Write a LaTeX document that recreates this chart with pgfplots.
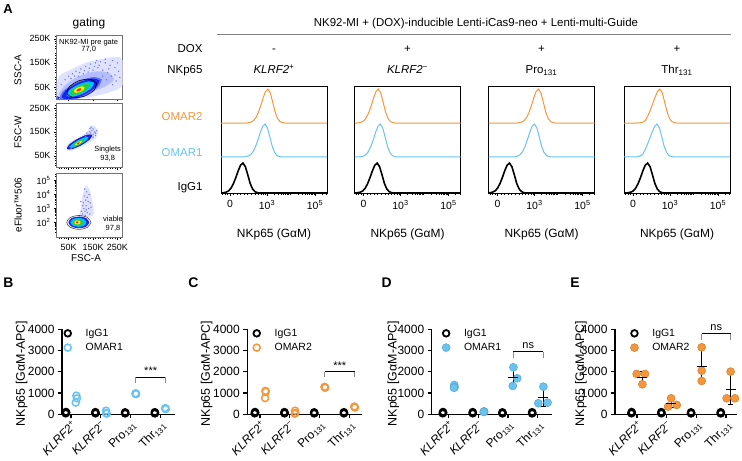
\documentclass[border=0pt]{standalone}
\usepackage{fontspec}
\setmainfont{Liberation Sans}
\usepackage{pgfplots}
\pgfplotsset{compat=1.18}
\definecolor{orangeC}{RGB}{245,150,60}
\definecolor{blueC}{RGB}{105,195,240}
\definecolor{dOut}{RGB}{95,115,255}
\definecolor{dBlue}{RGB}{25,35,235}
\definecolor{dCyan}{RGB}{0,195,255}
\definecolor{dGreen}{RGB}{40,205,70}
\definecolor{dYellow}{RGB}{250,235,0}
\definecolor{dRed}{RGB}{240,40,20}
\definecolor{cloud}{RGB}{222,226,255}
\definecolor{cloudB}{RGB}{180,190,255}
\definecolor{dots}{RGB}{110,120,245}
\newcommand{\fs}[1]{\fontsize{#1}{#1}\selectfont}
\pgfplotsset{
  every axis/.append style={/pgf/number format/assume math mode=true,/pgf/number format/1000 sep={}},
  gate/.style={scale only axis, width=66bp, height=64bp, anchor=south west,
    xmin=0, xmax=271, axis line style={black!55, line width=0.6bp},
    tick pos=left, tick align=outside, major tick length=2.5bp, minor tick length=1.3bp,
    tick style={black, line width=0.5bp},
    xtick={50,150,250}, minor xtick={10,20,30,40,60,70,80,90,110,120,130,140,160,170,180,190,210,220,230,240,260},
    ticklabel style={font=\fs{9}}, xticklabel style={yshift=-0.5bp},
  },
  hist/.style={scale only axis, width=106bp, height=107bp, anchor=south west,
    xmin=1.085, xmax=5.5, ymin=0, ymax=3.15, ytick=\empty,
    xtick={1.46,3,5}, xticklabels={0,10\textsuperscript{3},10\textsuperscript{5}},
    minor xtick={1.15,1.25,1.35,1.6,1.75,1.9,2.05,2.2,2.35,2.5,2.62,2.75,2.85,2.93,3.301,3.477,3.602,3.699,3.778,3.845,3.903,3.954,4.301,4.477,4.602,4.699,4.778,4.845,4.903,4.954,5.301,5.477},
    tick pos=left, tick align=outside, major tick length=3bp, minor tick length=1.8bp,
    tick style={black, line width=0.6bp},
    axis line style={line width=0.8bp},
    ticklabel style={font=\fs{10.5}}, xticklabel style={yshift=-1bp},
  },
  ora/.style={orangeC, line width=1bp},
  blu/.style={blueC, line width=1bp},
  blk/.style={black, line width=1.6bp},
  scat/.style={scale only axis, height=85bp, anchor=south west,
    ymin=0, ymax=4000, ytick={0,1000,2000,3000,4000},
    axis lines=left, axis line style={-, line width=1.3bp},
    xtick={1,2,3,4},
    xticklabels={\textit{KLRF2}\textsuperscript{+}, \textit{KLRF2}\textsuperscript{−}, Pro\textsubscript{131}, Thr\textsubscript{131}},
    xticklabel style={rotate=45, anchor=north east, font=\fs{12}, inner sep=1pt},
    yticklabel style={font=\fs{12}},
    tick align=outside, major tick length=4bp, tick style={line width=1.2bp, black},
    clip=false,
    legend style={draw=none, fill=none, font=\fs{10.5}, anchor=north west, inner sep=0pt, row sep=1.5pt},
    legend cell align=left,
    legend image code/.code={\draw[mark repeat=2,mark phase=2,#1] plot coordinates {(0bp,0bp) (4bp,0bp) (8bp,0bp)}; \path (0bp,0bp) (19bp,0bp);},
  },
  igg/.style={only marks, mark=o, mark size=3.3bp, black, line width=1.8bp},
  opn/.style={only marks, mark=o, mark size=3.5bp, line width=1.5bp},
  fil/.style={only marks, mark=*, mark size=4bp, line width=0.5bp},
  meansd/.style={forget plot, black, line width=1.1bp, only marks, mark=-, mark size=5bp,
    error bars/.cd, y dir=both, y explicit, error bar style={line width=1.1bp},
    error mark options={rotate=90, mark size=2.5bp, line width=1.1bp}},
  brk/.style={black, line width=1bp, forget plot},
  brt/.style={black!45, line width=1bp, forget plot},
}
\begin{document}
\begin{tikzpicture}
\path[use as bounding box] (0,0) rectangle (742bp,461bp);

% ---------------- Panel A texts
\node[font=\fs{13}\bfseries] at (8bp,452.3bp) {A};
\node[font=\fs{12}, anchor=base] at (89bp,434bp) {gating};
\node[font=\fs{11.5}, anchor=base] at (476bp,434bp) {NK92-MI + (DOX)-inducible Lenti-iCas9-neo + Lenti-multi-Guide};
\draw[black!50, line width=0.7bp] (217bp,427bp) -- (731bp,427bp);
\node[font=\fs{11.5}, anchor=base east] at (206bp,408.5bp) {DOX};
\node[font=\fs{11.5}, anchor=base east] at (206bp,387bp) {NKp65};
\node[font=\fs{11.5}, anchor=base] at (274bp,408.5bp) {-};
\node[font=\fs{11.5}, anchor=base] at (407.5bp,408.5bp) {+};
\node[font=\fs{11.5}, anchor=base] at (541.5bp,408.5bp) {+};
\node[font=\fs{11.5}, anchor=base] at (677bp,408.5bp) {+};
\node[font=\fs{11.5}, anchor=base] at (274bp,387bp) {\textit{KLRF2}\textsuperscript{+}};
\node[font=\fs{11.5}, anchor=base] at (407.5bp,387bp) {\textit{KLRF2}\textsuperscript{−}};
\node[font=\fs{11.5}, anchor=base] at (541.5bp,387bp) {Pro\textsubscript{131}};
\node[font=\fs{11.5}, anchor=base] at (677bp,387bp) {Thr\textsubscript{131}};
\node[font=\fs{11.5}, anchor=base east, text=orangeC] at (206bp,340.3bp) {OMAR2};
\node[font=\fs{11.5}, anchor=base east, text=blueC] at (206bp,304.3bp) {OMAR1};
\node[font=\fs{11.5}, anchor=base east] at (206bp,270bp) {IgG1};
\foreach \cx in {274,407.5,541.5,677}{
  \node[font=\fs{12}, anchor=base] at (\cx bp,223bp) {NKp65 (GαM)};
}
% gating labels
\node[font=\fs{10}, rotate=90] at (18bp,391bp) {SSC-A};
\node[font=\fs{10}, rotate=90] at (18bp,329bp) {FSC-W};
\node[font=\fs{10}, rotate=90] at (18bp,256bp) {eFluor™506};
\node[font=\fs{10}] at (86bp,203.3bp) {FSC-A};

% ---------------- gating plot 1
\begin{axis}[gate, at={(56.5bp,362bp)}, ymin=0, ymax=266,
  ytick={50,150,250}, yticklabels={50K,150K,250K}, xticklabels={},
  minor ytick={10,20,30,40,60,70,80,90,110,120,130,140,160,170,180,190,210,220,230,240,260}]
\addplot[fill=cloud, draw=none, smooth] coordinates {(0,0) (0,60) (16,100) (57,121) (118,150) (179,165) (240,175) (271,160) (271,58) (220,29) (138,8) (60,0) (0,0)};
\addplot[fill=cloudB, draw=none, smooth] coordinates {(8,20) (40,62) (100,98) (165,115) (215,108) (235,80) (200,52) (150,32) (90,15) (30,5) (8,20)};
\addplot[only marks, mark=*, mark size=0.45bp, dots] coordinates {(20,60) (35,80) (50,95) (65,105) (80,115) (100,125) (120,135) (140,145) (160,150) (180,155) (200,150) (220,140) (240,130) (255,115) (260,90) (245,75) (230,60) (210,110) (190,120) (170,130) (150,120) (130,112) (110,105) (90,95) (190,95) (205,80) (225,95) (240,100) (60,85) (75,95) (95,110) (115,118) (135,128) (155,135) (175,140) (250,150) (230,160) (200,165) (165,160) (215,125)};
\addplot[fill=dOut, draw=none, smooth] coordinates {(186.1,82.2) (151,91.6) (86,71.9) (29.2,34.7) (13.9,1.8) (49,-7.6) (114,12.1) (170.8,49.3) (186.1,82.2)};
\addplot[fill=dBlue, draw=none, smooth] coordinates {(177,78) (146,85) (88,67) (37,35) (23,6) (54,-1) (112,17) (163,50) (177,78)};
\addplot[fill=dCyan, draw=none, smooth] coordinates {(154.2,67.2) (131.4,73) (89.1,60) (52,35.9) (41.8,14.8) (64.6,9) (106.9,22) (144,46.1) (154.2,67.2)};
\addplot[fill=dGreen, draw=none, smooth] coordinates {(136.8,59) (120.4,63.1) (89.7,53.6) (62.7,36.2) (55.2,21) (71.6,16.9) (102.3,26.4) (129.3,43.8) (136.8,59)};
\addplot[fill=dYellow, draw=none, smooth] coordinates {(114.7,49.2) (105.4,52.6) (88.8,48.1) (74.7,39.8) (71.3,28.8) (80.6,25.4) (97.2,29.9) (111.3,38.2) (114.7,49.2)};
\addplot[fill=dRed, draw=none, smooth] coordinates {(102,42.7) (97.6,44.5) (89.9,42.5) (83.4,38.1) (82,33.3) (86.4,31.5) (94.1,33.5) (100.6,37.9) (102,42.7)};
\addplot[fill=dBlue, draw=none, smooth] coordinates {(14,5) (10,9) (4,11) (-2,9) (-4,5) (-2,1) (4,-1) (10,1) (14,5)};
\addplot[fill=dGreen, draw=none, smooth] coordinates {(8,4) (6,6) (3,7) (0,6) (-1,4) (0,2) (3,1) (6,2) (8,4)};
\addplot[fill=dRed, draw=none] coordinates {(5,4) (4,5) (3,5) (2,4) (3,3) (4,3) (5,4)};
\addplot[black, line width=0.6bp, smooth] coordinates {(164.2,65.9) (138.4,82.1) (92.4,76) (53.2,51.1) (43.8,22.1) (69.6,5.9) (115.6,12) (154.8,36.9) (164.2,65.9)};
\node[font=\fs{7.5}] at (axis cs:132,236) {NK92-MI pre gate};
\node[font=\fs{7.5}] at (axis cs:132,206) {77,0};
\end{axis}

% ---------------- gating plot 2
\begin{axis}[gate, at={(56.5bp,293.3bp)}, ymin=0, ymax=268,
  ytick={50,150,250}, yticklabels={50K,150K,250K}, xticklabels={},
  minor ytick={10,20,30,40,60,70,80,90,110,120,130,140,160,170,180,190,210,220,230,240,260}]
\addplot[fill=cloud, draw=none, smooth] coordinates {(45,72) (65,72) (110,92) (150,115) (170,140) (160,172) (140,175) (125,150) (95,128) (55,108) (40,88) (45,72)};
\addplot[only marks, mark=*, mark size=0.45bp, dots] coordinates {(150,140) (155,150) (160,145) (140,145) (130,140) (165,155) (145,155) (120,130) (160,135) (150,128) (100,118) (60,80) (55,90) (135,150) (125,145) (138,165) (142,170) (150,162) (115,135)};
\addplot[fill=dBlue, draw=dBlue!60!black, line width=0.5bp, smooth] coordinates {(145.8,136.1) (126.1,136.6) (88.2,120.3) (54.3,96.8) (44.2,79.9) (63.9,79.4) (101.8,95.7) (135.7,119.2) (145.8,136.1)};
\addplot[fill=dCyan, draw=none, smooth] coordinates {(131.5,127.3) (116.8,127.3) (88.2,114.8) (62.3,97.1) (54.5,84.7) (69.2,84.7) (97.9,97.3) (123.7,114.9) (131.5,127.3)};
\addplot[fill=dGreen, draw=none, smooth] coordinates {(118.3,119.6) (108.2,119.6) (88.6,111.1) (71,99) (65.7,90.4) (75.8,90.4) (95.4,98.9) (113,111) (118.3,119.6)};
\addplot[fill=dYellow, draw=none, smooth] coordinates {(104,110.8) (98.3,111.3) (87.8,106.9) (78.5,100.2) (76,95.2) (81.7,94.7) (92.2,99.1) (101.5,105.8) (104,110.8)};
\addplot[fill=dRed, draw=none, smooth] coordinates {(95.1,105.4) (92.5,106) (87.8,104.2) (83.8,101.2) (82.9,98.6) (85.5,98) (90.2,99.8) (94.2,102.8) (95.1,105.4)};
\node[font=\fs{7.5}] at (axis cs:210,74) {Singlets};
\node[font=\fs{7.5}] at (axis cs:210,37) {93,8};
\end{axis}

% ---------------- gating plot 3
\begin{axis}[gate, at={(56.5bp,223.7bp)}, ymin=0.93, ymax=5.53,
  ytick={2,3,4,5}, yticklabels={10\textsuperscript{2},10\textsuperscript{3},10\textsuperscript{4},10\textsuperscript{5}},
  xticklabels={50K,150K,250K},
  minor ytick={1.3,1.48,1.6,1.7,1.78,1.85,1.9,1.95,2.3,2.48,2.6,2.7,2.78,2.85,2.9,2.95,3.3,3.48,3.6,3.7,3.78,3.85,3.9,3.95,4.3,4.48,4.6,4.7,4.78,4.85,4.9,4.95,5.3,5.48}]
\addplot[fill=cloud, draw=none, smooth] coordinates {(90,2.3) (100,3.0) (106,3.8) (118,4.6) (135,4.4) (148,3.4) (150,2.5) (90,2.3)};
\addplot[only marks, mark=*, mark size=0.45bp, dots] coordinates {(107,2.6) (117,2.8) (112,3.0) (122,3.2) (110,3.4) (127,2.7) (132,3.0) (120,3.6) (114,3.9) (124,4.2) (130,3.5) (137,2.6) (102,2.8) (118,2.5) (142,3.1) (108,3.2) (126,3.8) (134,4.0) (116,4.4) (122,2.9) (100,3.5) (138,3.4)};
\addplot[fill=dBlue, draw=none, smooth] coordinates {(135,2.0) (122.4,2.30) (92,2.42) (61.6,2.30) (49,2.0) (61.6,1.70) (92,1.58) (122.4,1.70) (135,2.0)};
\addplot[fill=dCyan, draw=none, smooth] coordinates {(123,2.0) (113.3,2.23) (90,2.32) (66.7,2.23) (57,2.0) (66.7,1.77) (90,1.68) (113.3,1.77) (123,2.0)};
\addplot[fill=dGreen, draw=none, smooth] coordinates {(111,2.0) (104.3,2.17) (88,2.24) (71.7,2.17) (65,2.0) (71.7,1.83) (88,1.76) (104.3,1.83) (111,2.0)};
\addplot[fill=dYellow, draw=none, smooth] coordinates {(99,2.0) (95.2,2.106) (86,2.15) (76.8,2.106) (73,2.0) (76.8,1.894) (86,1.85) (95.2,1.894) (99,2.0)};
\addplot[fill=dRed, draw=none, smooth] coordinates {(90,2) (88.5,2.05) (85,2.07) (81.5,2.05) (80,2) (81.5,1.95) (85,1.93) (88.5,1.95) (90,2)};
\addplot[black!70, line width=0.6bp, smooth] coordinates {(142,2) (127.4,2.354) (92,2.5) (56.6,2.354) (42,2) (56.6,1.646) (92,1.5) (127.4,1.646) (142,2)};
\node[font=\fs{7.5}] at (axis cs:232,2.26) {viable};
\node[font=\fs{7.5}] at (axis cs:232,1.6) {97,8};
\end{axis}

% ---------------- histograms
\begin{axis}[hist, at={(221bp,268bp)}]
\addplot[ora] coordinates {(1.085,2.06) (2.14,2.06) (2.24,2.07) (2.34,2.09) (2.44,2.13) (2.54,2.22) (2.64,2.37) (2.74,2.57) (2.84,2.80) (2.94,2.99) (3.04,3.06) (3.14,2.94) (3.24,2.67) (3.34,2.38) (3.44,2.195) (3.54,2.104) (3.64,2.071) (3.74,2.06) (5.5,2.06)};
\addplot[blu] coordinates {(1.085,1.06) (2.02,1.06) (2.12,1.07) (2.22,1.089) (2.32,1.128) (2.42,1.215) (2.52,1.361) (2.62,1.555) (2.72,1.778) (2.82,1.962) (2.92,2.03) (3.02,1.914) (3.12,1.652) (3.22,1.37) (3.32,1.191) (3.42,1.103) (3.52,1.071) (3.62,1.06) (5.5,1.06)};
\addplot[blk] coordinates {(1.085,0) (1.1,0) (1.2,0.009) (1.3,0.026) (1.4,0.062) (1.5,0.141) (1.6,0.273) (1.7,0.449) (1.8,0.651) (1.9,0.818) (2.0,0.88) (2.1,0.774) (2.2,0.537) (2.3,0.282) (2.4,0.119) (2.5,0.039) (2.6,0.01) (2.7,0) (5.5,0)};
\end{axis}
\begin{axis}[hist, at={(354.5bp,268bp)}]
\addplot[ora] coordinates {(1.085,2.06) (1.18,2.06) (1.28,2.07) (1.38,2.09) (1.48,2.13) (1.58,2.22) (1.68,2.37) (1.78,2.57) (1.88,2.80) (1.98,2.99) (2.08,3.06) (2.18,2.94) (2.28,2.67) (2.38,2.38) (2.48,2.195) (2.58,2.104) (2.68,2.071) (2.78,2.06) (5.5,2.06)};
\addplot[blu] coordinates {(1.085,1.06) (1.26,1.06) (1.36,1.07) (1.46,1.089) (1.56,1.128) (1.66,1.215) (1.76,1.361) (1.86,1.555) (1.96,1.778) (2.06,1.962) (2.16,2.03) (2.26,1.914) (2.36,1.652) (2.46,1.37) (2.56,1.191) (2.66,1.103) (2.76,1.071) (2.86,1.06) (5.5,1.06)};
\addplot[blk] coordinates {(1.085,0) (1.13,0) (1.23,0.009) (1.33,0.026) (1.43,0.062) (1.53,0.141) (1.63,0.273) (1.73,0.449) (1.83,0.651) (1.93,0.818) (2.03,0.88) (2.13,0.774) (2.23,0.537) (2.33,0.282) (2.43,0.119) (2.53,0.039) (2.63,0.01) (2.73,0) (5.5,0)};
\end{axis}
\begin{axis}[hist, at={(488.5bp,268bp)}]
\addplot[ora] coordinates {(1.085,2.06) (2.27,2.06) (2.37,2.07) (2.47,2.09) (2.57,2.13) (2.67,2.22) (2.77,2.37) (2.87,2.57) (2.97,2.80) (3.07,2.99) (3.17,3.06) (3.27,2.94) (3.37,2.67) (3.47,2.38) (3.57,2.195) (3.67,2.104) (3.77,2.071) (3.87,2.06) (5.5,2.06)};
\addplot[blu] coordinates {(1.085,1.06) (2.1,1.06) (2.2,1.07) (2.3,1.089) (2.4,1.128) (2.5,1.215) (2.6,1.361) (2.7,1.555) (2.8,1.778) (2.9,1.962) (3.0,2.03) (3.1,1.914) (3.2,1.652) (3.3,1.37) (3.4,1.191) (3.5,1.103) (3.6,1.071) (3.7,1.06) (5.5,1.06)};
\addplot[blk] coordinates {(1.085,0.004) (1.16,0.009) (1.26,0.026) (1.36,0.062) (1.46,0.141) (1.56,0.273) (1.66,0.449) (1.76,0.651) (1.86,0.818) (1.96,0.88) (2.06,0.774) (2.16,0.537) (2.26,0.282) (2.36,0.119) (2.46,0.039) (2.56,0.01) (2.66,0) (5.5,0)};
\end{axis}
\begin{axis}[hist, at={(624bp,268bp)}]
\addplot[ora] coordinates {(1.085,2.06) (1.68,2.06) (1.78,2.07) (1.88,2.09) (1.98,2.14) (2.08,2.27) (2.18,2.44) (2.28,2.63) (2.38,2.82) (2.48,2.99) (2.58,3.06) (2.68,2.94) (2.78,2.67) (2.88,2.38) (2.98,2.195) (3.08,2.104) (3.18,2.071) (3.28,2.06) (5.5,2.06)};
\addplot[blu] coordinates {(1.085,1.06) (1.56,1.06) (1.66,1.07) (1.76,1.089) (1.86,1.135) (1.96,1.265) (2.06,1.431) (2.16,1.615) (2.26,1.80) (2.36,1.962) (2.46,2.03) (2.56,1.914) (2.66,1.652) (2.76,1.37) (2.86,1.191) (2.96,1.103) (3.06,1.071) (3.16,1.06) (5.5,1.06)};
\addplot[blk] coordinates {(1.085,0) (1.17,0) (1.27,0.009) (1.37,0.026) (1.47,0.062) (1.57,0.141) (1.67,0.273) (1.77,0.449) (1.87,0.651) (1.97,0.818) (2.07,0.88) (2.17,0.774) (2.27,0.537) (2.37,0.282) (2.47,0.119) (2.57,0.039) (2.67,0.01) (2.77,0) (5.5,0)};
\end{axis}

% ---------------- Panels B-E labels
\node[font=\fs{14}\bfseries] at (8.3bp,178bp) {B};
\node[font=\fs{14}\bfseries] at (193.5bp,178bp) {C};
\node[font=\fs{14}\bfseries] at (386.7bp,178bp) {D};
\node[font=\fs{14}\bfseries] at (575bp,178bp) {E};
\foreach \lx in {21.7,206.7,393.3,581}{
  \node[font=\fs{12.5}, rotate=90] at (\lx bp,87.5bp) {NKp65 [GαM-APC]};
}

% ---------------- B
\begin{axis}[scat, at={(62bp,46.7bp)}, width=113bp, xmin=0.697, xmax=4.5,
  legend style={at={(0.006,1.03)}}, legend entries={IgG1,OMAR1}]
\addplot[igg] coordinates {(0.83,110) (0.84,75) (0.82,45) (1.82,105) (1.83,70) (1.82,45) (2.82,95) (2.83,65) (2.82,40) (3.82,100) (3.83,70) (3.82,40)};
\addplot[opn, blueC] coordinates {(1.18,880) (1.2,750) (1.16,550) (2.18,170) (2.18,60) (2.2,30) (3.18,990) (3.19,950) (3.17,970) (4.18,270) (4.19,250) (4.17,290)};
\addplot[brk] coordinates {(3.18,1741) (4.18,1741)};
\addplot[brt] coordinates {(3.18,1741) (3.18,1460)};
\addplot[brt] coordinates {(4.18,1741) (4.18,1460)};
\node[font=\fs{11}] at (axis cs:3.68,2050) {***};
\end{axis}

% ---------------- C
\begin{axis}[scat, at={(247.3bp,46.7bp)}, width=114.4bp, xmin=0.572, xmax=4.42,
  legend style={at={(0.038,1.03)}}, legend entries={IgG1,OMAR2}]
\addplot[igg] coordinates {(0.83,110) (0.84,75) (0.82,45) (1.82,105) (1.83,70) (1.82,45) (2.82,95) (2.83,65) (2.82,40) (3.82,100) (3.83,70) (3.82,40)};
\addplot[opn, orangeC] coordinates {(1.18,1100) (1.19,1060) (1.17,760) (2.18,170) (2.19,60) (2.17,30) (3.18,1270) (3.19,1250) (3.17,1290) (4.18,345) (4.19,320) (4.17,360)};
\addplot[brk] coordinates {(3.18,2008) (4.18,2008)};
\addplot[brt] coordinates {(3.18,2008) (3.18,1741)};
\addplot[brt] coordinates {(4.18,2008) (4.18,1741)};
\node[font=\fs{11}] at (axis cs:3.68,2300) {***};
\end{axis}

% ---------------- D
\begin{axis}[scat, at={(431.7bp,46.7bp)}, width=120bp, xmin=0.431, xmax=4.47,
  legend style={at={(0.078,1.03)}}, legend entries={IgG1,OMAR1}]
\addplot[igg] coordinates {(0.81,110) (0.82,75) (0.80,45) (1.81,105) (1.82,70) (1.81,45) (2.81,95) (2.82,65) (2.81,40) (3.81,100) (3.82,70) (3.81,40)};
\addplot[fil, blueC, mark options={fill=blueC, draw=blueC!85!black}] coordinates {(1.19,1380) (1.2,1270) (1.18,1250) (2.19,140) (2.2,120) (2.18,110) (3.18,2212) (3.31,1694) (3.16,1333) (4.19,1300) (4.02,520) (4.33,550)};
\addplot[meansd] coordinates {(3.18,1746) +- (0,442) (4.19,790) +- (0,442)};
\addplot[brk] coordinates {(3.18,2949) (4.19,2949)};
\addplot[brt] coordinates {(3.18,2949) (3.18,2640)};
\addplot[brt] coordinates {(4.19,2949) (4.19,2640)};
\node[font=\fs{11}] at (axis cs:3.68,3230) {ns};
\end{axis}

% ---------------- E
\begin{axis}[scat, at={(615bp,46.7bp)}, width=121.7bp, xmin=0.26, xmax=4.36,
  legend style={at={(0.118,1.03)}}, legend entries={IgG1,OMAR2}]
\addplot[igg] coordinates {(0.82,110) (0.83,75) (0.81,45) (1.82,105) (1.83,70) (1.82,45) (2.82,95) (2.83,65) (2.82,40) (3.82,100) (3.83,70) (3.82,40)};
\addplot[fil, orangeC, mark options={fill=orangeC, draw=orangeC!85!black}] coordinates {(0.99,1898) (1.27,1898) (1.18,1412) (2.15,753) (2.05,361) (2.34,439) (3.18,3153) (3.18,2055) (3.18,1569) (4.155,2008) (4.02,753) (4.30,753)};
\addplot[meansd] coordinates {(1.18,1736) +- (0,281) (2.15,518) +- (0,206) (3.18,2259) +- (0,811) (4.155,1171) +- (0,725)};
\addplot[brk] coordinates {(3.18,3780) (4.155,3780)};
\addplot[brt] coordinates {(3.18,3780) (3.18,3500)};
\addplot[brt] coordinates {(4.155,3780) (4.155,3500)};
\node[font=\fs{11}] at (axis cs:3.67,4060) {ns};
\end{axis}
\end{tikzpicture}
\end{document}
